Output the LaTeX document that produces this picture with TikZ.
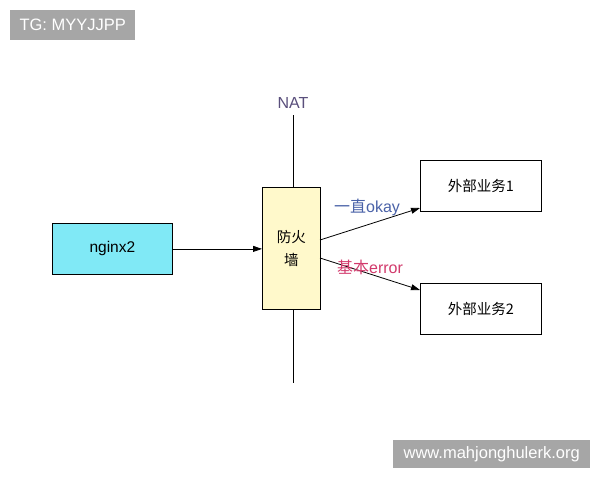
\documentclass[tikz,border=0pt]{standalone}
\usepackage{fontspec}
\setmainfont{Liberation Sans}
\newfontfamily\cjk{Noto Sans CJK SC}
\usetikzlibrary{arrows.meta}
\definecolor{cyanfill}{HTML}{80E9F6}
\definecolor{yelfill}{HTML}{FFF9CB}
\definecolor{natcol}{HTML}{5A4F7C}
\definecolor{okcol}{HTML}{4A62A8}
\definecolor{errcol}{HTML}{D23A6C}
\definecolor{wmgray}{HTML}{A6A6A6}
\begin{document}
\begin{tikzpicture}[x=1pt,y=-1pt,
  box/.style={draw=black,line width=0.8pt,inner sep=0pt,anchor=north west},
  conn/.style={line width=0.8pt,-{Triangle[length=9pt,width=6pt]}},
  wm/.style={fill=wmgray,text=white,inner sep=0pt,anchor=north west,font=\fontsize{16.5}{18}\selectfont},
  lbl/.style={font=\fontsize{16}{18}\selectfont}]
\useasboundingbox (0,0) rectangle (600,480);
\fill[white] (0,0) rectangle (600,480);
% watermarks
\node[wm,minimum width=125pt,minimum height=30pt] (wm1) at (10,10) {TG: MYYJJPP};
\node[wm,minimum width=197pt,minimum height=28pt] (wm2) at (393,440) {www.mahjonghulerk.org};
% boxes
\node[box,fill=cyanfill,minimum width=120pt,minimum height=51pt,font=\fontsize{15.5}{17}\selectfont] (ng) at (52,223) {nginx2};
\node[box,fill=yelfill,minimum width=58pt,minimum height=122pt,align=center,font=\cjk\fontsize{14.5}{23}\selectfont] (fw) at (262,187) {防火\\墙};
\node[box,minimum width=121pt,minimum height=51pt,font=\fontsize{14.5}{17}\selectfont] (b1) at (420,160) {\cjk 外部业务1};
\node[box,minimum width=121pt,minimum height=51pt,font=\fontsize{14.5}{17}\selectfont] (b2) at (420,283) {\cjk 外部业务2};
% NAT line
\node[lbl,text=natcol,inner sep=0pt] (nat) at (293,103) {NAT};
\coordinate (natbot) at (293,383);
\draw[line width=0.8pt] (nat.south |- 0,115) -- (fw.north -| nat.south);
\draw[line width=0.8pt] (fw.south -| nat.south) -- (natbot);
% connectors
\draw[conn] (ng.east) -- (fw.west |- ng.east);
\coordinate (s1) at (320,240);
\coordinate (e1) at (420,208);
\coordinate (s2) at (320,258);
\coordinate (e2) at (420,290);
\draw[conn] (s1) -- (e1);
\draw[conn] (s2) -- (e2);
\node[lbl,text=okcol,inner sep=0pt] (lok) at (367,207) {\cjk 一直\fontspec{Liberation Sans}okay};
\node[lbl,text=errcol,inner sep=0pt] (ler) at (370,267) {\cjk 基本\fontspec{Liberation Sans}error};
\end{tikzpicture}
\end{document}
